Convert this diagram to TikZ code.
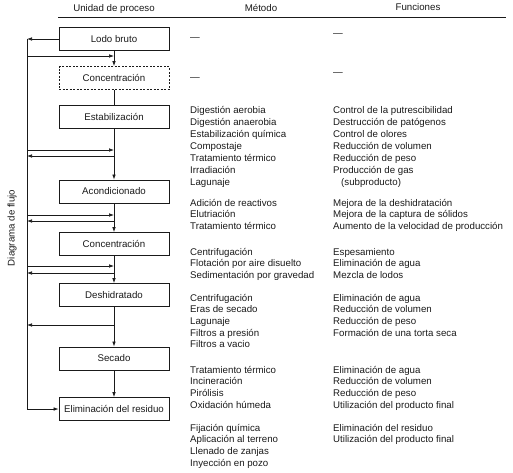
\documentclass[tikz,border=0pt]{standalone}
\usepackage{fontspec}
\setmainfont{Liberation Sans}
\usetikzlibrary{arrows.meta}
\definecolor{tinta}{HTML}{1a1a1a}

\begin{document}
\begin{tikzpicture}[x=1pt, y=-1pt,
		every node/.style={font=\fontsize{9.7}{11.6}\selectfont, text=tinta},
		caja/.style={draw=tinta, line width=0.8pt, minimum width=110pt, minimum height=23pt, inner sep=0pt},
		cajapunteada/.style={caja, dash pattern=on 2pt off 1.5pt},
		lista/.style={anchor=north west, align=left, inner sep=0pt},
		listaancha/.style={lista, font=\fontsize{9.7}{12}\selectfont},
		linea/.style={draw=tinta, line width=0.7pt},
		flecha/.style={linea, -{Latex[length=5pt, width=3.6pt]}}]
		\useasboundingbox (0,0) rectangle (513,472);
		% cabecera
		\node (hunidad) at (114,9) {Unidad de proceso};
		\node (hmetodo) at (261,8) {Método};
		\node (hfunciones) at (418,7) {Funciones};
		\draw[linea] (58,17) -- (506,17);
		\node[rotate=90] (hflujo) at (12,228) {Diagrama de flujo};
		% unidades de proceso
		\node[caja] (lodo) at (114,39) {Lodo bruto};
		\node[cajapunteada] (concA) at (114,78) {Concentración};
		\node[caja] (estab) at (114,117) {Estabilización};
		\node[caja] (acond) at (114,191.5) {Acondicionado};
		\node[caja] (concB) at (114,244) {Concentración};
		\node[caja] (deshid) at (114,295) {Deshidratado};
		\node[caja] (secado) at (114,358.5) {Secado};
		\node[caja] (elim) at (114,409) {Eliminación del residuo};
		\draw[flecha] (lodo) -- (concA);
		\draw[linea] (concA) -- (estab);
		\draw[flecha] (estab) -- (acond);
		\draw[flecha] (acond) -- (concB);
		\draw[flecha] (concB) -- (deshid);
		\draw[flecha] (deshid) -- (secado);
		\draw[flecha] (secado) -- (elim);
		% linea lateral
		\coordinate (izqA) at (27,39);
		\coordinate (izqB) at (27,409);
		\draw[flecha] (lodo.west) -- (izqA);
		\draw[linea] (izqA) -- (izqB);
		\draw[flecha] (izqB) -- (elim.west);
		\coordinate (ra1) at (27,56);
		\coordinate (ra2) at (114,56);
		\coordinate (rb1) at (27,150);
		\coordinate (rb2) at (114,150);
		\coordinate (sb1) at (114,156);
		\coordinate (sb2) at (27,156);
		\coordinate (rc1) at (27,215);
		\coordinate (rc2) at (114,215);
		\coordinate (sc1) at (114,221);
		\coordinate (sc2) at (27,221);
		\coordinate (rd1) at (27,266);
		\coordinate (rd2) at (114,266);
		\coordinate (sd1) at (114,273);
		\coordinate (sd2) at (27,273);
		\coordinate (se1) at (114,325);
		\coordinate (se2) at (27,325);
		\draw[flecha] (ra1) -- (ra2);
		\draw[flecha] (rb1) -- (rb2);
		\draw[flecha] (sb1) -- (sb2);
		\draw[flecha] (rc1) -- (rc2);
		\draw[flecha] (sc1) -- (sc2);
		\draw[flecha] (rd1) -- (rd2);
		\draw[flecha] (sd1) -- (sd2);
		\draw[flecha] (se1) -- (se2);
		% metodos
		\node[lista] (m0) at (190,31.9) {\strut —};
		\node[lista] (m1) at (190,71.9) {\strut —};
		\node[listaancha] (m2) at (190,104.6) {\strut Digestión aerobia\\Digestión anaerobia\\Estabilización química\\Compostaje\\Tratamiento térmico\\Irradiación\\Lagunaje};
		\node[lista] (m3) at (190,197.9) {\strut Adición de reactivos\\Elutriación\\Tratamiento térmico};
		\node[lista] (m4) at (190,246.9) {\strut Centrifugación\\Flotación por aire disuelto\\Sedimentación por gravedad};
		\node[lista] (m5) at (190,292.9) {\strut Centrifugación\\Eras de secado\\Lagunaje\\Filtros a presión\\Filtros a vacio};
		\node[lista] (m6) at (190,364.9) {\strut Tratamiento térmico\\Incineración\\Pirólisis\\Oxidación húmeda};
		\node[lista] (m7) at (190,422.9) {\strut Fijación química\\Aplicación al terreno\\Llenado de zanjas\\Inyección en pozo};
		% funciones
		\node[lista] (f0) at (333,27.9) {\strut —};
		\node[lista] (f1) at (333,66.9) {\strut —};
		\node[listaancha] (f2) at (333,104.6) {\strut Control de la putrescibilidad\\Destrucción de patógenos\\Control de olores\\Reducción de volumen\\Reducción de peso\\Producción de gas\\\hspace*{8pt}(subproducto)};
		\node[lista] (f3) at (333,197.9) {\strut Mejora de la deshidratación\\Mejora de la captura de sólidos\\Aumento de la velocidad de producción};
		\node[lista] (f4) at (333,246.9) {\strut Espesamiento\\Eliminación de agua\\Mezcla de lodos};
		\node[lista] (f5) at (333,292.9) {\strut Eliminación de agua\\Reducción de volumen\\Reducción de peso\\Formación de una torta seca};
		\node[lista] (f6) at (333,364.9) {\strut Eliminación de agua\\Reducción de volumen\\Reducción de peso\\Utilización del producto final};
		\node[lista] (f7) at (333,422.9) {\strut Eliminación del residuo\\Utilización del producto final};
	\end{tikzpicture}
\end{document}
